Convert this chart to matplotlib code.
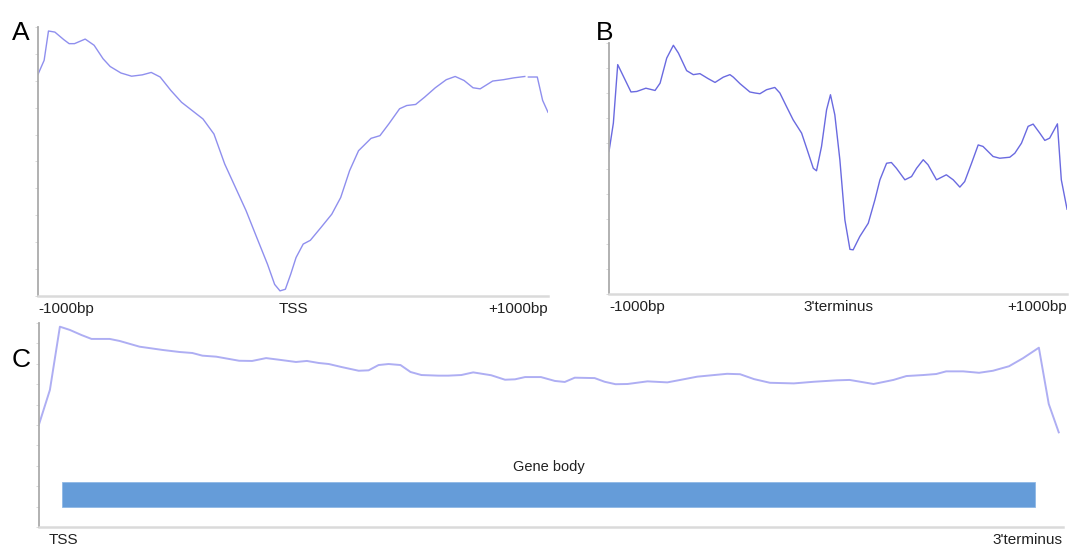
import numpy as np
import matplotlib
matplotlib.use("Agg")
import matplotlib.pyplot as plt

plt.rcParams['font.family'] = ['Liberation Sans', 'DejaVu Sans']

# A: read density around the TSS (bp from TSS, arbitrary units)
tss_pos = [-1000, -976, -959, -934, -899, -878, -857, -815, -780, -745, -717, -675,
           -633, -591, -556, -521, -479, -437, -395, -353, -310, -268, -226, -184,
           -142, -100, -72, -51, -30, -9, 12, 40, 68, 110, 152, 187, 222, 257, 306,
           341, 376, 418, 446, 481, 516, 558, 601, 636, 671, 706, 734, 783, 825, 867,
           909, 916, 923, 958, 979, 1000]
tss_val = [82.4, 87.6, 98.5, 98.1, 95.3, 93.8, 93.8, 95.5, 93.2, 88.2, 85.3, 82.9,
           81.7, 82.2, 83.1, 81.4, 76.4, 72.0, 68.9, 65.8, 60.2, 49.1, 40.4, 31.7,
           21.7, 11.8, 4.3, 1.9, 2.5, 8.1, 14.3, 19.3, 20.7, 25.5, 30.4, 36.6, 46.6,
           54.0, 58.6, 59.6, 64.0, 69.6, 70.8, 71.2, 73.9, 77.4, 80.4, 81.6, 80.1,
           77.4, 77.0, 79.9, 80.4, 81.1, 81.6, np.nan, 81.4, 81.4, 72.7, 68.3]
tss_ticks = ['-1000bp', 'TSS', '+1000bp']

# B: read density around the 3' terminus
ter_pos = [-1000, -981, -962, -937, -904, -879, -839, -799, -777, -748, -719, -697,
           -661, -632, -603, -567, -537, -501, -472, -457, -428, -385, -363, -341,
           -312, -276, -254, -225, -196, -159, -137, -108, -94, -72, -50, -33, -14,
           8, 30, 52, 66, 95, 132, 161, 183, 212, 233, 255, 292, 321, 343, 372, 393,
           430, 473, 503, 532, 553, 583, 612, 633, 677, 706, 750, 772, 801, 830, 852,
           881, 903, 924, 958, 975, 1000]
ter_val = [56.8, 68.1, 91.4, 86.7, 80.5, 80.7, 82.0, 81.1, 84.0, 94.0, 99.1, 96.0,
           89.0, 87.4, 87.8, 85.8, 84.3, 86.4, 87.4, 86.4, 83.8, 80.5, 80.1, 79.8,
           81.4, 82.3, 80.1, 74.7, 69.4, 64.1, 58.1, 50.1, 49.1, 58.8, 73.4, 79.4,
           71.4, 53.5, 29.5, 17.8, 17.6, 22.9, 28.2, 37.5, 45.5, 52.1, 52.4, 50.1,
           45.5, 46.8, 50.1, 53.5, 51.5, 45.5, 47.5, 45.5, 42.6, 44.8, 52.1, 59.4,
           58.8, 54.8, 54.1, 54.5, 56.1, 60.1, 66.8, 67.7, 64.1, 61.2, 62.1, 67.8,
           45.5, 33.8]
ter_ticks = ['-1000bp', "3'terminus", '+1000bp']

# C: metagene profile over the gene body (% of region)
body_pos = [0, 1.07, 2.05, 3.03, 4.17, 5.15, 6.93, 7.91, 9.86, 12.11, 13.77, 15.04,
            16.02, 17.38, 19.63, 20.90, 22.27, 23.54, 25.20, 26.27, 27.44, 28.42,
            29.69, 31.35, 32.32, 33.30, 34.28, 35.45, 36.43, 37.50, 39.16, 40.14,
            41.41, 42.58, 44.34, 45.70, 46.68, 47.66, 49.22, 50.59, 51.56, 52.54,
            54.49, 55.47, 56.54, 57.71, 59.67, 61.62, 62.89, 64.55, 66.21, 67.48,
            68.75, 70.12, 71.68, 74.02, 75.98, 78.22, 79.49, 81.84, 83.79, 85.06,
            86.72, 87.99, 88.96, 90.63, 92.19, 93.55, 95.12, 96.48, 98.05, 99.02, 100]
body_val = [50.3, 67.2, 98.2, 96.6, 94.1, 92.2, 92.2, 91.2, 88.4, 86.8, 85.8, 85.3,
            84.0, 83.5, 81.5, 81.4, 82.8, 82.0, 80.9, 81.4, 80.4, 79.9, 78.4, 76.6,
            76.8, 79.4, 79.9, 79.4, 76.0, 74.5, 74.2, 74.2, 74.5, 75.8, 74.4, 72.2,
            72.4, 73.5, 73.5, 71.6, 71.1, 73.2, 73.0, 71.2, 70.0, 70.1, 71.4, 70.9,
            72.1, 73.7, 74.5, 75.1, 74.9, 72.5, 70.7, 70.4, 71.2, 71.9, 72.1, 70.1,
            72.1, 74.0, 74.5, 75.0, 76.3, 76.3, 75.6, 76.6, 78.8, 82.7, 87.9, 60.3, 46.4]
body_ticks = ['TSS', "3'terminus"]
gene_body = (2.25, 97.66)   # start / end of the gene body bar
gene_body_y = (10.0, 22.2)


def style_axes(ax, xlim, ticks, labels, aligns):
    ax.set_xlim(*xlim)
    ax.set_ylim(0, 100)
    for side in ['top', 'right']:
        ax.spines[side].set_visible(False)
    ax.spines['left'].set_color('#ababab')
    ax.spines['left'].set_linewidth(1.3)
    ax.spines['bottom'].set_color('#dadada')
    ax.spines['bottom'].set_linewidth(1.8)
    ax.set_yticks(np.linspace(0, 100, 11))
    ax.set_yticklabels([])
    ax.tick_params(axis='y', length=2.5, width=0.6, color='#d4d4d4')
    ax.set_xticks(ticks)
    ax.set_xticklabels(labels, fontsize=11, color='#222222')
    ax.tick_params(axis='x', length=0, pad=4)
    for lbl, ha in zip(ax.get_xticklabels(), aligns):
        lbl.set_ha(ha)


fig = plt.figure(figsize=(10.8, 5.46), dpi=100)

ax_a = fig.add_axes([0.0352, 0.4579, 0.4722, 0.4927])
ax_a.plot(tss_pos, tss_val, color='#8f8fee', lw=1.0)
style_axes(ax_a, (-1000, 1000), [-1000, 0, 1000], tss_ticks, ['left', 'center', 'right'])

ax_b = fig.add_axes([0.5639, 0.4615, 0.4241, 0.4597])
ax_b.plot(ter_pos, ter_val, color='#6a6ae0', lw=1.0)
# end labels sit slightly inside the axis ends
style_axes(ax_b, (-1000, 1000), [-1000, 0, 1000], ter_ticks, ['left', 'center', 'right'])
ax_b.get_xticklabels()[0].set_x(-1030)
ax_b.get_xticklabels()[2].set_x(1035)

ax_c = fig.add_axes([0.0361, 0.0348, 0.948, 0.3736])
ax_c.plot(body_pos, body_val, color='#aeaef3', lw=1.4)
ax_c.barh((gene_body_y[0] + gene_body_y[1]) / 2, gene_body[1] - gene_body[0],
          height=gene_body_y[1] - gene_body_y[0], left=gene_body[0],
          color='#659cd9', edgecolor='#8fb8e6', linewidth=0.6)
ax_c.text((gene_body[0] + gene_body[1]) / 2, gene_body_y[1] + 4, 'Gene body',
          ha='center', va='bottom', fontsize=10.5, color='#222222')
style_axes(ax_c, (0, 100), [0.9, 100.4], body_ticks, ['left', 'right'])

fig.text(0.011, 0.94, 'A', fontsize=19, ha='left', va='center')
fig.text(0.552, 0.94, 'B', fontsize=19, ha='left', va='center')
fig.text(0.011, 0.34, 'C', fontsize=19, ha='left', va='center')

fig.savefig('out.png', dpi=100)
